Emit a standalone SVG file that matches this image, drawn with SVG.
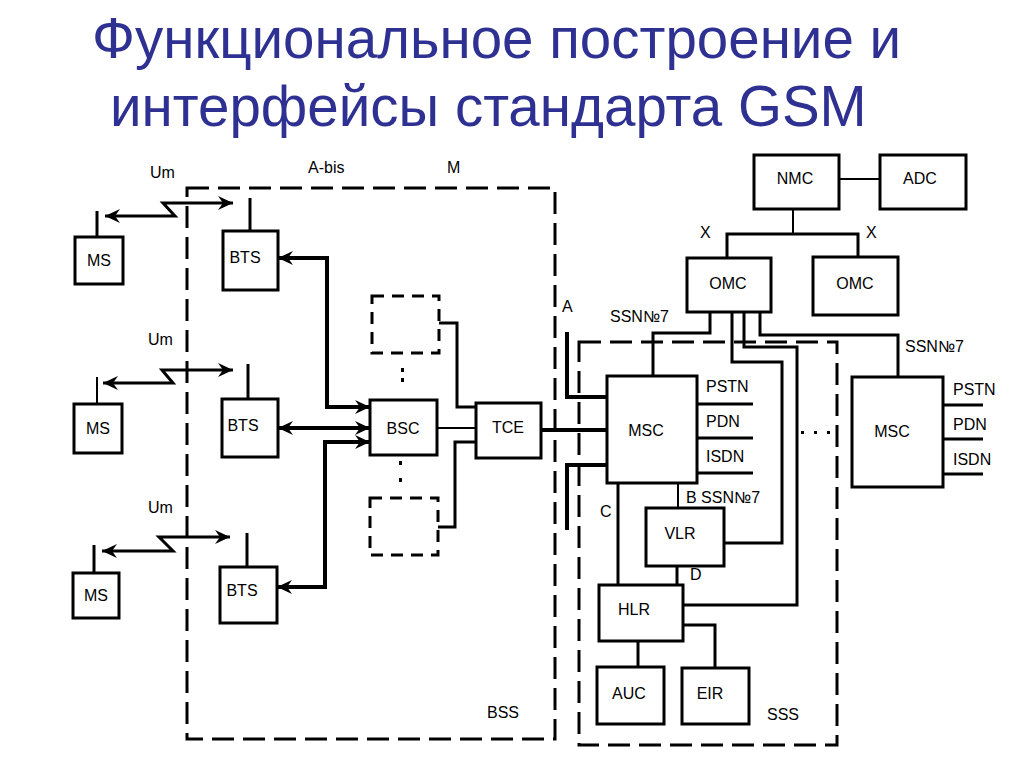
<svg xmlns="http://www.w3.org/2000/svg" width="1024" height="768" viewBox="0 0 1024 768">
<style>
.title{font-family:"Liberation Sans",Arial,sans-serif;font-size:56.5px;fill:#2E3192}
.lbl{font-family:"Liberation Sans",Arial,sans-serif;font-size:16px;fill:#000}
.box{fill:#fff;stroke:#000;stroke-width:3}
.dbox{fill:none;stroke:#000;stroke-width:3;stroke-dasharray:12 8}
.frame{fill:none;stroke:#000;stroke-width:3;stroke-dasharray:22 9}
.thick{fill:none;stroke:#000;stroke-width:4}
.mid{fill:none;stroke:#000;stroke-width:3}
.thin{fill:none;stroke:#000;stroke-width:2}
</style>
<defs>
<marker id="ah" markerUnits="userSpaceOnUse" markerWidth="16" markerHeight="16" viewBox="0 0 16 16" refX="15" refY="8" orient="auto-start-reverse">
<path d="M0,1 L15,8 L0,15 L5,8 z" fill="#000"/>
</marker>
</defs>
<rect width="1024" height="768" fill="#fff"/>
<text class="title" x="92" y="58">Функциональное построение и</text>
<text class="title" x="110" y="126">интерфейсы стандарта GSM</text>

<g id="frames">
<rect class="frame" x="187" y="188" width="368" height="551"/>
<rect class="frame" x="579" y="342" width="258" height="403"/>
</g>

<g id="connectors">
<polyline class="mid" points="105,216 175,216 163,203 233,203" marker-start="url(#ah)" marker-end="url(#ah)"/>
<polyline class="mid" points="103,383 173,383 162,370 233,370" marker-start="url(#ah)" marker-end="url(#ah)"/>
<polyline class="mid" points="102,551 173,551 159,537 230,537" marker-start="url(#ah)" marker-end="url(#ah)"/>
<line class="mid" x1="97" y1="211" x2="97" y2="237"/>
<line class="mid" x1="250" y1="198" x2="250" y2="231"/>
<line class="thin" x1="97" y1="377" x2="97" y2="404"/>
<line class="mid" x1="248" y1="364" x2="248" y2="399"/>
<line class="mid" x1="94" y1="545" x2="94" y2="573"/>
<line class="mid" x1="247" y1="533" x2="247" y2="567"/>
<polyline class="thick" points="278,258 327,258 327,407 370,407" marker-start="url(#ah)" marker-end="url(#ah)"/>
<line class="thick" x1="278" y1="428" x2="370" y2="428" marker-start="url(#ah)" marker-end="url(#ah)"/>
<polyline class="thick" points="277,587 325,587 325,442 370,442" marker-start="url(#ah)" marker-end="url(#ah)"/>
<polyline class="mid" points="439,323 457,323 457,407 476,407"/>
<line class="thin" x1="437" y1="428" x2="476" y2="428"/>
<polyline class="mid" points="476,442 455,442 455,527 438,527"/>
<line class="thick" x1="541" y1="430" x2="607" y2="430"/>
<polyline class="thick" points="567,332 567,397 607,397"/>
<polyline class="thick" points="607,465 567,465 567,530"/>
<line class="thin" x1="839" y1="179" x2="880" y2="179"/>
<line class="thin" x1="793" y1="209" x2="793" y2="234"/>
<polyline class="mid" points="727,258 727,234 858,234 858,257"/>
<polyline class="mid" points="710,312 710,333 653,333 653,376"/>
<polyline class="mid" points="732,312 732,362 782,362 782,543 724,543"/>
<polyline class="mid" points="744,312 744,347 797,347 797,605 683,605"/>
<polyline class="mid" points="760,312 760,335 898,335 898,377"/>
<line class="mid" x1="697" y1="404" x2="753" y2="404"/>
<line class="mid" x1="697" y1="438" x2="753" y2="438"/>
<line class="mid" x1="697" y1="473" x2="753" y2="473"/>
<line class="mid" x1="943" y1="405" x2="983" y2="405"/>
<line class="mid" x1="943" y1="439" x2="983" y2="439"/>
<line class="mid" x1="943" y1="474" x2="983" y2="474"/>
<line class="thin" x1="678" y1="483" x2="678" y2="508"/>
<line class="mid" x1="618" y1="483" x2="618" y2="585"/>
<line class="mid" x1="677" y1="566" x2="677" y2="585"/>
<polyline class="mid" points="683,625 715,625 715,668"/>
<line class="mid" x1="638" y1="641" x2="638" y2="667"/>
<g fill="#000">
<rect x="401" y="368" width="3" height="4"/><rect x="401" y="378" width="3" height="4"/>
<rect x="399" y="461" width="3" height="4"/><rect x="399" y="478" width="3" height="4"/>
<rect x="801" y="431" width="3" height="3"/><rect x="814" y="431" width="3" height="3"/><rect x="827" y="431" width="3" height="3"/>
</g>
</g>

<g id="MS1"><rect class="box" x="75" y="237" width="48" height="47"/><text class="lbl" x="99" y="266" text-anchor="middle">MS</text></g>
<g id="MS2"><rect class="box" x="74" y="404" width="48" height="49"/><text class="lbl" x="98" y="434" text-anchor="middle">MS</text></g>
<g id="MS3"><rect class="box" x="73" y="573" width="46" height="45"/><text class="lbl" x="96" y="601" text-anchor="middle">MS</text></g>
<g id="BTS1"><rect class="box" x="223" y="231" width="55" height="59"/><text class="lbl" x="245" y="263" text-anchor="middle">BTS</text></g>
<g id="BTS2"><rect class="box" x="222" y="399" width="56" height="58"/><text class="lbl" x="243" y="431" text-anchor="middle">BTS</text></g>
<g id="BTS3"><rect class="box" x="220" y="567" width="57" height="56"/><text class="lbl" x="242" y="596" text-anchor="middle">BTS</text></g>
<g id="BSC"><rect class="box" x="370" y="400" width="67" height="55"/><text class="lbl" x="403" y="434" text-anchor="middle">BSC</text></g>
<g id="BSC_top"><rect class="dbox" x="372" y="296" width="67" height="57"/></g>
<g id="BSC_bottom"><rect class="dbox" x="370" y="498" width="68" height="57"/></g>
<g id="TCE"><rect class="box" x="476" y="403" width="65" height="55"/><text class="lbl" x="508" y="433" text-anchor="middle">TCE</text></g>
<g id="MSC1"><rect class="box" x="607" y="376" width="90" height="107"/><text class="lbl" x="646" y="436" text-anchor="middle">MSC</text></g>
<g id="MSC2"><rect class="box" x="852" y="377" width="91" height="110"/><text class="lbl" x="892" y="437" text-anchor="middle">MSC</text></g>
<g id="NMC"><rect class="box" x="754" y="155" width="85" height="54"/><text class="lbl" x="795" y="184" text-anchor="middle">NMC</text></g>
<g id="ADC"><rect class="box" x="880" y="155" width="86" height="54"/><text class="lbl" x="920" y="184" text-anchor="middle">ADC</text></g>
<g id="OMC1"><rect class="box" x="687" y="258" width="84" height="54"/><text class="lbl" x="728" y="289" text-anchor="middle">OMC</text></g>
<g id="OMC2"><rect class="box" x="813" y="257" width="85" height="58"/><text class="lbl" x="855" y="289" text-anchor="middle">OMC</text></g>
<g id="VLR"><rect class="box" x="646" y="508" width="78" height="58"/><text class="lbl" x="680" y="539" text-anchor="middle">VLR</text></g>
<g id="HLR"><rect class="box" x="599" y="585" width="84" height="56"/><text class="lbl" x="634" y="615" text-anchor="middle">HLR</text></g>
<g id="AUC"><rect class="box" x="597" y="667" width="67" height="57"/><text class="lbl" x="629" y="699" text-anchor="middle">AUC</text></g>
<g id="EIR"><rect class="box" x="682" y="668" width="67" height="56"/><text class="lbl" x="710" y="699" text-anchor="middle">EIR</text></g>

<g id="labels">
<text class="lbl" x="150" y="178">Um</text>
<text class="lbl" x="148" y="345">Um</text>
<text class="lbl" x="148" y="513">Um</text>
<text class="lbl" x="308" y="173">A-bis</text>
<text class="lbl" x="447" y="173">M</text>
<text class="lbl" x="562" y="312">A</text>
<text class="lbl" x="610" y="322">SSN№7</text>
<text class="lbl" x="905" y="352">SSN№7</text>
<text class="lbl" x="700" y="238">X</text>
<text class="lbl" x="866" y="238">X</text>
<text class="lbl" x="706" y="392">PSTN</text>
<text class="lbl" x="706" y="427">PDN</text>
<text class="lbl" x="706" y="462">ISDN</text>
<text class="lbl" x="953" y="395">PSTN</text>
<text class="lbl" x="953" y="430">PDN</text>
<text class="lbl" x="953" y="465">ISDN</text>
<text class="lbl" x="686" y="503">B SSN№7</text>
<text class="lbl" x="600" y="517">C</text>
<text class="lbl" x="690" y="580">D</text>
<text class="lbl" x="487" y="718">BSS</text>
<text class="lbl" x="767" y="720">SSS</text>
</g>
</svg>
